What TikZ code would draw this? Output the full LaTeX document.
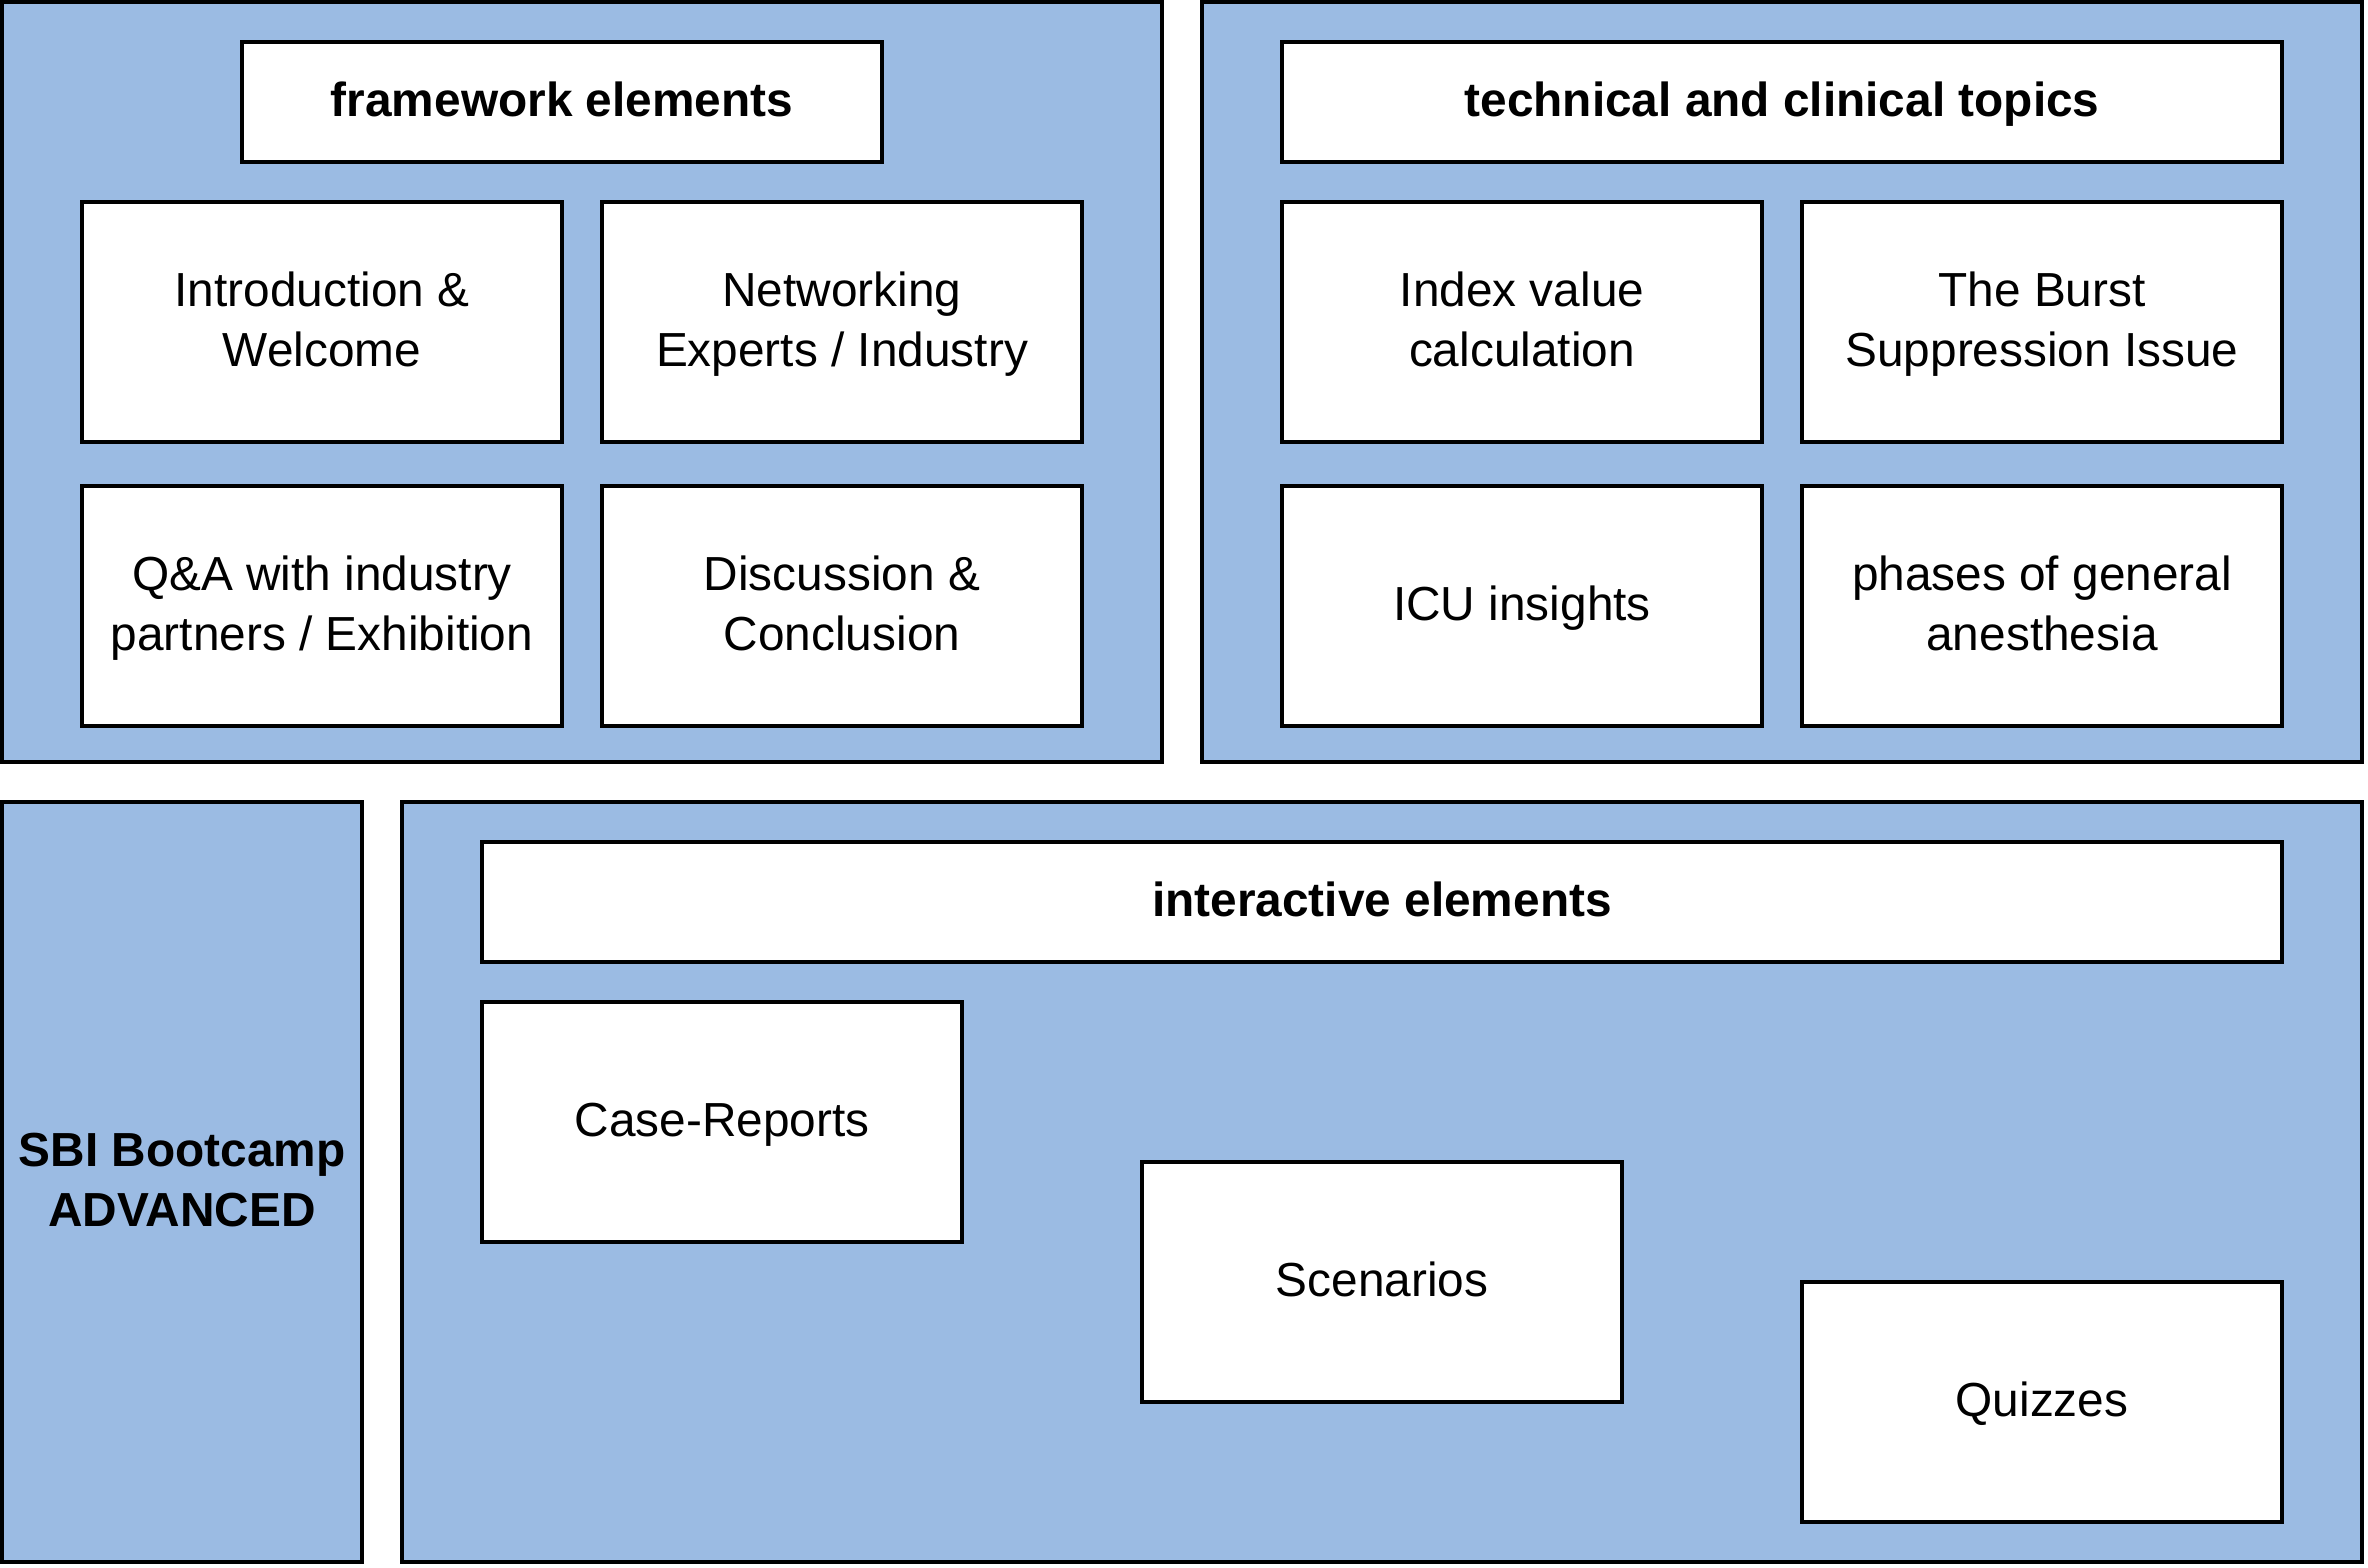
\documentclass[tikz,border=0pt]{standalone}
\usepackage{fontspec}
\setmainfont{Liberation Sans}
\definecolor{panelblue}{RGB}{155,187,227}
\newcommand{\linestrut}{\vrule height 0.85em depth 0.25em width 0pt}

\begin{document}
\begin{tikzpicture}[x=1cm,y=-1cm,
  panel/.style={draw,line width=1mm,fill=panelblue,inner sep=0pt,minimum height=19cm},
  cell/.style={draw,line width=1mm,fill=white,inner sep=0pt,minimum width=12cm,minimum height=6cm,
    align=center,font=\fontsize{34}{43}\selectfont,
    execute at begin node=\linestrut,execute at end node=\linestrut},
  heading/.style={cell,minimum height=3cm,font=\fontsize{34}{43}\selectfont\bfseries}]
\useasboundingbox (-0.05,-0.05) rectangle (59.15,39.15);
% panels
\node[panel,minimum width=29cm] (framework) at (14.5,9.5) {};
\node[panel,minimum width=29cm] (topics) at (44.5,9.5) {};
\node[panel,minimum width=9cm,align=center,font=\fontsize{34}{43}\selectfont\bfseries,
  execute at end node=\linestrut] (bootcamp) at (4.5,29.5) {\linestrut SBI Bootcamp\\ADVANCED};
\node[panel,minimum width=49cm] (interactive) at (34.5,29.5) {};
% framework elements
\node[heading,minimum width=16cm] (frameworktitle) at (14,2.5) {framework elements};
\node[cell] (intro) at (8,8) {\linestrut Introduction \&\\Welcome};
\node[cell] (networking) at (21,8) {\linestrut Networking\\Experts / Industry};
\node[cell] (qa) at (8,15.1) {\linestrut Q\&A with industry\\partners / Exhibition};
\node[cell] (discussion) at (21,15.1) {\linestrut Discussion \&\\Conclusion};
% technical and clinical topics
\node[heading,minimum width=25cm] (topicstitle) at (44.5,2.5) {technical and clinical topics};
\node[cell] (index) at (38,8) {\linestrut Index value\\calculation};
\node[cell] (burst) at (51,8) {\linestrut The Burst\\Suppression Issue};
\node[cell] (icu) at (38,15.1) {ICU insights};
\node[cell] (phases) at (51,15.1) {\linestrut phases of general\\anesthesia};
% interactive elements
\node[heading,minimum width=45cm] (interactivetitle) at (34.5,22.5) {interactive elements};
\node[cell] (cases) at (18,28) {Case-Reports};
\node[cell] (scenarios) at (34.5,32) {Scenarios};
\node[cell] (quizzes) at (51,35) {Quizzes};
\end{tikzpicture}
\end{document}
